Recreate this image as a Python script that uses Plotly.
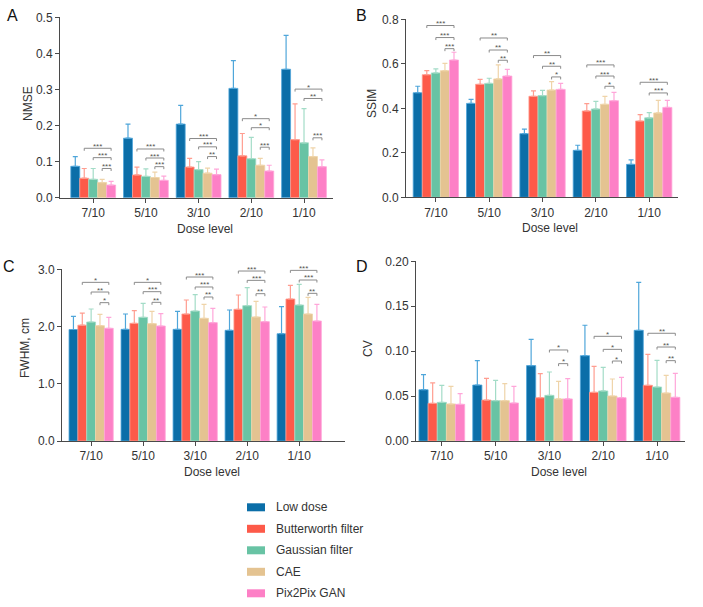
import plotly.graph_objects as go

# ---------------- data ----------------
doses = ["7/10", "5/10", "3/10", "2/10", "1/10"]
methods = ["Low dose", "Butterworth filter", "Gaussian filter", "CAE", "Pix2Pix GAN"]

# rows = methods (order above), columns = doses
nmse_mean = [
    [0.087, 0.165, 0.204, 0.303, 0.356],
    [0.054, 0.063, 0.085, 0.116, 0.161],
    [0.051, 0.059, 0.078, 0.108, 0.152],
    [0.042, 0.056, 0.068, 0.090, 0.114],
    [0.035, 0.048, 0.064, 0.074, 0.086],
]
nmse_sd = [
    [0.027, 0.039, 0.052, 0.077, 0.094],
    [0.027, 0.022, 0.024, 0.062, 0.099],
    [0.030, 0.021, 0.022, 0.059, 0.095],
    [0.009, 0.015, 0.014, 0.019, 0.024],
    [0.010, 0.012, 0.015, 0.016, 0.019],
]
ssim_mean = [
    [0.470, 0.422, 0.286, 0.211, 0.148],
    [0.551, 0.508, 0.454, 0.388, 0.343],
    [0.559, 0.512, 0.457, 0.397, 0.357],
    [0.569, 0.532, 0.482, 0.418, 0.379],
    [0.617, 0.545, 0.485, 0.434, 0.404],
]
ssim_sd = [
    [0.029, 0.018, 0.020, 0.023, 0.020],
    [0.018, 0.022, 0.024, 0.033, 0.029],
    [0.018, 0.023, 0.024, 0.034, 0.024],
    [0.033, 0.063, 0.038, 0.036, 0.057],
    [0.035, 0.030, 0.027, 0.038, 0.032],
]
fwhm_mean = [
    [1.948, 1.951, 1.951, 1.934, 1.875],
    [2.024, 2.056, 2.219, 2.301, 2.481],
    [2.079, 2.161, 2.271, 2.365, 2.376],
    [2.015, 2.050, 2.143, 2.167, 2.219],
    [1.969, 2.009, 2.068, 2.085, 2.097],
]
fwhm_sd = [
    [0.230, 0.268, 0.315, 0.355, 0.472],
    [0.209, 0.221, 0.245, 0.250, 0.239],
    [0.227, 0.244, 0.286, 0.314, 0.361],
    [0.198, 0.216, 0.245, 0.273, 0.291],
    [0.192, 0.216, 0.250, 0.256, 0.291],
]
cv_mean = [
    [0.0571, 0.0623, 0.0839, 0.0950, 0.1232],
    [0.0419, 0.0456, 0.0482, 0.0542, 0.0620],
    [0.0430, 0.0449, 0.0508, 0.0557, 0.0601],
    [0.0412, 0.0449, 0.0468, 0.0501, 0.0534],
    [0.0408, 0.0423, 0.0468, 0.0482, 0.0486],
]
cv_sd = [
    [0.0167, 0.0271, 0.0293, 0.0338, 0.0534],
    [0.0227, 0.0242, 0.0268, 0.0289, 0.0345],
    [0.0190, 0.0226, 0.0260, 0.0263, 0.0297],
    [0.0197, 0.0189, 0.0196, 0.0189, 0.0197],
    [0.0119, 0.0186, 0.0226, 0.0227, 0.0267],
]

# significance brackets: (dose index, from method, to method, height, label)
nmse_sig = [
    (0, 1, 4, 0.137, "***"), (0, 2, 4, 0.111, "***"), (0, 3, 4, 0.081, "***"),
    (1, 1, 4, 0.135, "***"), (1, 2, 4, 0.110, "***"), (1, 3, 4, 0.086, "***"),
    (2, 1, 4, 0.164, "***"), (2, 2, 4, 0.141, "***"), (2, 3, 4, 0.114, "**"),
    (3, 1, 4, 0.219, "*"), (3, 2, 4, 0.194, "*"), (3, 3, 4, 0.140, "***"),
    (4, 1, 4, 0.301, "*"), (4, 2, 4, 0.275, "**"), (4, 3, 4, 0.166, "***"),
]
ssim_sig = [
    (0, 1, 4, 0.772, "***"), (0, 2, 4, 0.718, "***"), (0, 3, 4, 0.668, "***"),
    (1, 1, 4, 0.716, "**"), (1, 2, 4, 0.662, "**"), (1, 3, 4, 0.616, "**"),
    (2, 1, 4, 0.637, "**"), (2, 2, 4, 0.589, "**"), (2, 3, 4, 0.541, "*"),
    (3, 1, 4, 0.595, "***"), (3, 2, 4, 0.545, "***"), (3, 3, 4, 0.499, "*"),
    (4, 1, 4, 0.517, "***"), (4, 2, 4, 0.469, "***"),
]
fwhm_sig = [
    (0, 1, 4, 2.772, "*"), (0, 2, 4, 2.603, "**"), (0, 3, 4, 2.417, "*"),
    (1, 1, 4, 2.772, "*"), (1, 2, 4, 2.609, "***"), (1, 3, 4, 2.423, "**"),
    (2, 1, 4, 2.865, "***"), (2, 2, 4, 2.691, "***"), (2, 3, 4, 2.516, "**"),
    (3, 1, 4, 2.970, "***"), (3, 2, 4, 2.807, "***"), (3, 3, 4, 2.574, "**"),
    (4, 1, 4, 2.982, "***"), (4, 2, 4, 2.813, "***"), (4, 3, 4, 2.580, "**"),
]
cv_sig = [
    (2, 2, 4, 0.1013, "*"), (2, 3, 4, 0.0861, "*"),
    (3, 1, 4, 0.1165, "*"), (3, 2, 4, 0.1020, "*"), (3, 3, 4, 0.0890, "*"),
    (4, 1, 4, 0.1199, "**"), (4, 2, 4, 0.1046, "**"), (4, 3, 4, 0.0894, "**"),
]

# ---------------- style ----------------
bar_colors = ["#0b6ea8", "#fd5a49", "#68c3a4", "#e4c391", "#fd80c6"]
err_colors = ["#4fa6da", "#ff9d90", "#a3dcc7", "#efd4a9", "#ffa6d9"]
W, H = 703, 607
FONT = "Liberation Sans, Arial, Helvetica, sans-serif"
TXT = "#333333"
AXC = "#4a4a4a"
BARGAP = 0.15


def fx(px):
    return px / W


def fy(py):
    return 1 - py / H


panels = [
    dict(id="", means=nmse_mean, sds=nmse_sd, sig=nmse_sig, title="NMSE", letter="A",
         px=(60, 333), py=(17.3, 197.7), yr=(0, 0.5), dt=0.1, fmt=".1f", xr=(-0.63, 4.55),
         ttl=(28, 104), lt=(12, 15)),
    dict(id="2", means=ssim_mean, sds=ssim_sd, sig=ssim_sig, title="SSIM", letter="B",
         px=(406, 678), py=(19.3, 197.3), yr=(0, 0.8), dt=0.2, fmt=".1f", xr=(-0.56, 4.54),
         ttl=(372, 104), lt=(361, 15)),
    dict(id="3", means=fwhm_mean, sds=fwhm_sd, sig=fwhm_sig, title="FWHM, cm", letter="C",
         px=(62, 345), py=(269.3, 441), yr=(0, 3.0), dt=1.0, fmt=".1f", xr=(-0.56, 4.88),
         ttl=(25, 348), lt=(9, 266)),
    dict(id="4", means=cv_mean, sds=cv_sd, sig=cv_sig, title="CV", letter="D",
         px=(416, 685), py=(261.3, 441), yr=(0, 0.20), dt=0.05, fmt=".2f", xr=(-0.48, 4.52),
         ttl=(368, 348), lt=(362, 266)),
]

fig = go.Figure()
shapes = []
annotations = []
layout = {}

bw = (1 - BARGAP) / len(methods)

for p in panels:
    xa, ya = "x" + p["id"], "y" + p["id"]
    for k, name in enumerate(methods):
        fig.add_trace(go.Bar(
            x=doses, y=p["means"][k], name=name,
            xaxis=xa, yaxis=ya, showlegend=False,
            marker=dict(color=bar_colors[k], line=dict(color=err_colors[k], width=0.8)),
            error_y=dict(type="data", symmetric=False, array=p["sds"][k],
                         arrayminus=[0] * len(doses), color=err_colors[k],
                         thickness=1.2, width=2.5),
        ))
    tickvals = []
    v = p["yr"][0]
    while v <= p["yr"][1] + 1e-9:
        tickvals.append(round(v, 4))
        v += p["dt"]
    layout["xaxis" + p["id"]] = dict(
        domain=[fx(p["px"][0]), fx(p["px"][1])], anchor=ya, type="category",
        range=list(p["xr"]), showline=True, linecolor=AXC, linewidth=1,
        ticks="outside", ticklen=4, tickcolor=AXC, tickwidth=1,
        tickfont=dict(family=FONT, size=12, color=TXT), showgrid=False, zeroline=False,
        fixedrange=True, automargin=False,
    )
    layout["yaxis" + p["id"]] = dict(
        domain=[fy(p["py"][1]), fy(p["py"][0])], anchor=xa,
        range=list(p["yr"]), showline=True, linecolor=AXC, linewidth=1,
        ticks="outside", ticklen=4, tickcolor=AXC, tickwidth=1,
        tickvals=tickvals, tickformat=p["fmt"],
        tickfont=dict(family=FONT, size=12, color=TXT), showgrid=False, zeroline=False,
        fixedrange=True, automargin=False,
    )
    unit_per_px = (p["yr"][1] - p["yr"][0]) / (p["py"][1] - p["py"][0])
    hk = 2.5 * unit_per_px
    for (d, a, b, lvl, lab) in p["sig"]:
        x0 = d - (1 - BARGAP) / 2 + (a + 0.5) * bw
        x1 = d - (1 - BARGAP) / 2 + (b + 0.5) * bw
        ln = dict(color="#8a8a8a", width=1)
        shapes.append(dict(type="line", xref=xa, yref=ya, x0=x0, x1=x1, y0=lvl, y1=lvl, line=ln))
        shapes.append(dict(type="line", xref=xa, yref=ya, x0=x0, x1=x0, y0=lvl, y1=lvl - hk, line=ln))
        shapes.append(dict(type="line", xref=xa, yref=ya, x0=x1, x1=x1, y0=lvl, y1=lvl - hk, line=ln))
        annotations.append(dict(xref=xa, yref=ya, x=(x0 + x1) / 2, y=lvl, text=lab,
                                showarrow=False, yanchor="middle", yshift=2,
                                font=dict(family=FONT, size=8, color="#555555")))
    annotations.append(dict(xref="paper", yref="paper", x=fx(p["ttl"][0]), y=fy(p["ttl"][1]),
                            text=p["title"], textangle=-90, showarrow=False,
                            xanchor="center", yanchor="middle",
                            font=dict(family=FONT, size=12, color=TXT)))
    annotations.append(dict(xref="paper", yref="paper",
                            x=fx((p["px"][0] + p["px"][1]) / 2 + 8), y=fy(p["py"][1] + 31),
                            text="Dose level", showarrow=False,
                            xanchor="center", yanchor="middle",
                            font=dict(family=FONT, size=12, color=TXT)))
    annotations.append(dict(xref="paper", yref="paper", x=fx(p["lt"][0]), y=fy(p["lt"][1]),
                            text=p["letter"], showarrow=False, xanchor="center", yanchor="middle",
                            font=dict(family=FONT, size=16, color="#111111")))

# custom legend
leg_x0, leg_x1, leg_tx = 247, 265, 274
leg_rows = [507.3, 528.8, 550.3, 571.8, 593.3]
for k, name in enumerate(methods):
    yc = leg_rows[k]
    shapes.append(dict(type="rect", xref="paper", yref="paper",
                       x0=fx(leg_x0), x1=fx(leg_x1), y0=fy(yc + 4), y1=fy(yc - 4),
                       fillcolor=bar_colors[k], line=dict(width=0)))
    annotations.append(dict(xref="paper", yref="paper", x=fx(leg_tx), y=fy(yc),
                            text=name, showarrow=False, xanchor="left", yanchor="middle",
                            font=dict(family=FONT, size=12, color=TXT)))

fig.update_layout(
    template="none",
    width=W, height=H, margin=dict(l=0, r=0, t=0, b=0, pad=0, autoexpand=False),
    paper_bgcolor="white", plot_bgcolor="white",
    barmode="group", bargap=BARGAP, bargroupgap=0,
    showlegend=False, shapes=shapes, annotations=annotations,
    font=dict(family=FONT, color=TXT),
    **layout,
)

fig.write_html(
    "out.html",
    config={"displayModeBar": False},
    post_script="document.body.style.margin='0';document.body.style.overflow='hidden';",
)
